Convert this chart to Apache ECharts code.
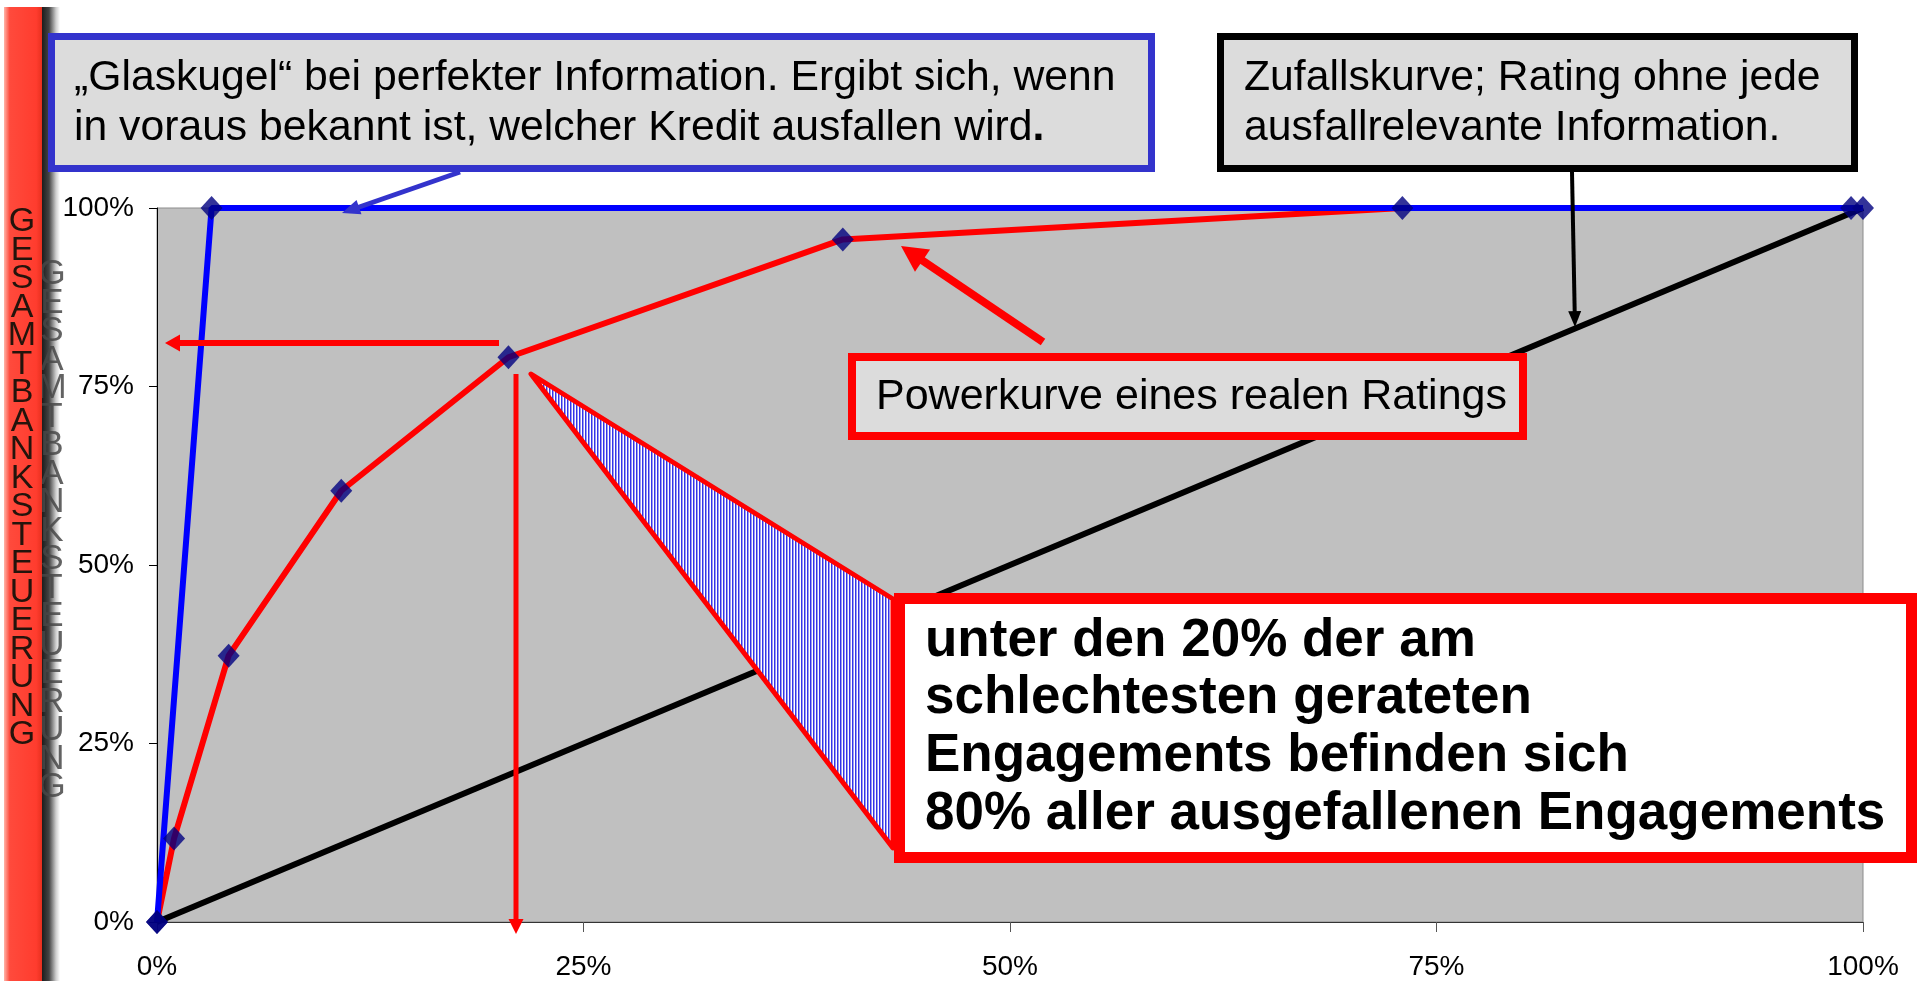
<!DOCTYPE html>
<html lang="de">
<head>
<meta charset="utf-8">
<title>Powerkurve eines Ratings</title>
<script src="https://cdn.jsdelivr.net/npm/echarts@6/dist/echarts.min.js"></script>
<style>
html, body { margin: 0; padding: 0; background: #fff; }
#main { width: 1927px; height: 981px; }
</style>
</head>
<body>
<div id="main"></div>
<script>
// Anteil Engagements (x, in %) gegen Anteil ausgefallener Engagements (y, in %)
var powerX = [0, 1.0, 4.2, 10.8, 20.6, 40.2, 73.0, 99.3];
var powerY = [0, 11.7, 37.3, 60.4, 79.1, 95.6, 100, 100];
var glasX = [0, 3.2, 100];
var glasY = [0, 100, 100];
var zufallX = [0, 100];
var zufallY = [0, 100];
var axisTicks = [0, 25, 50, 75, 100];
var banner = 'GESAMTBANKSTEUERUNG';

var FONT = '"Liberation Sans", Arial, sans-serif';

function pairs(xs, ys) {
    return xs.map(function (x, i) { return [x, ys[i]]; });
}

var chart = echarts.init(document.getElementById('main'));

chart.setOption({
    backgroundColor: '#fff',
    animation: false,
    textStyle: { fontFamily: FONT },
    grid: {
        left: 157, right: 64, top: 208, bottom: 57,
        show: true,
        backgroundColor: '#c0c0c0',
        borderColor: '#8c8c8c',
        borderWidth: 1
    },
    xAxis: {
        type: 'value',
        min: axisTicks[0],
        max: axisTicks[axisTicks.length - 1],
        interval: axisTicks[1] - axisTicks[0],
        splitLine: { show: false },
        axisLine: { lineStyle: { color: '#333', width: 1 } },
        axisTick: { length: 10, lineStyle: { color: '#555' } },
        axisLabel: {
            margin: 31, fontSize: 28, color: '#000', fontFamily: FONT,
            formatter: function (v) { return v + '%'; }
        }
    },
    yAxis: {
        type: 'value',
        min: axisTicks[0],
        max: axisTicks[axisTicks.length - 1],
        interval: axisTicks[1] - axisTicks[0],
        splitLine: { show: false },
        axisLine: { show: true, lineStyle: { color: '#000', width: 1 } },
        axisTick: { show: true, length: 8, lineStyle: { color: '#000' } },
        axisLabel: {
            margin: 23, fontSize: 28, color: '#000', fontFamily: FONT,
            formatter: function (v) { return v + '%'; }
        }
    },
    series: [
        {
            name: 'Zufallskurve', type: 'line', z: 2,
            data: pairs(zufallX, zufallY),
            symbol: 'none',
            lineStyle: { color: '#000', width: 6 }
        },
        {
            name: 'Powerkurve', type: 'line', z: 3,
            data: pairs(powerX, powerY),
            symbol: 'none',
            lineStyle: { color: '#ff0000', width: 6 }
        },
        {
            name: 'Glaskugel', type: 'line', z: 4,
            data: pairs(glasX, glasY),
            symbol: 'none',
            lineStyle: { color: '#0000ff', width: 6 }
        },
        {
            name: 'Punkte', type: 'scatter', z: 5,
            data: pairs(powerX, powerY).concat(pairs(glasX, glasY)),
            symbol: 'diamond',
            symbolSize: [22, 24],
            itemStyle: { color: '#000080' }
        }
    ]
});

// --- Anmerkungen (Kästen, Pfeile, Schraffur, Randleiste) ---
function arrow(x1, y1, x2, y2, w, hl, hw, color) {
    var dx = x2 - x1, dy = y2 - y1;
    var len = Math.sqrt(dx * dx + dy * dy);
    var ux = dx / len, uy = dy / len;
    var bx = x2 - ux * hl, by = y2 - uy * hl;
    var px = -uy * hw / 2, py = ux * hw / 2;
    return [
        { type: 'line', z: 100, shape: { x1: x1, y1: y1, x2: bx + ux * 2, y2: by + uy * 2 },
          style: { stroke: color, lineWidth: w } },
        { type: 'polygon', z: 100, shape: { points: [[x2, y2], [bx + px, by + py], [bx - px, by - py]] },
          style: { fill: color } }
    ];
}

function box(x1, y1, x2, y2, w, stroke, fill) {
    return { type: 'rect', z: 110,
        shape: { x: x1 + w / 2, y: y1 + w / 2, width: x2 - x1 - w, height: y2 - y1 - w },
        style: { fill: fill, stroke: stroke, lineWidth: w } };
}

function label(x, y, text, size, weight, extra) {
    var st = { text: text, fill: '#000', font: weight + ' ' + size + 'px ' + FONT,
               verticalAlign: 'middle', align: 'left' };
    if (extra) { for (var k in extra) st[k] = extra[k]; }
    return { type: 'text', z: 120, x: x, y: y, style: st };
}

var hatch = document.createElement('canvas');
hatch.width = 3; hatch.height = 2;
var hctx = hatch.getContext('2d');
hctx.fillStyle = '#ffffff'; hctx.fillRect(0, 0, 3, 2);
hctx.fillStyle = '#3434e8'; hctx.fillRect(0, 0, 1, 2);
hctx.fillStyle = '#9c9cf2'; hctx.fillRect(1, 0, 1, 2);

var g = [];

// Schraffiertes Dreieck
g.push({ type: 'polygon', z: 95,
    shape: { points: [[531, 374], [893, 599], [893, 848]] },
    style: { fill: { image: hatch, repeat: 'repeat' }, stroke: '#ff0000', lineWidth: 5, lineJoin: 'round' } });

// Pfeile
g = g.concat(arrow(460, 172, 342, 213, 5, 18, 15, '#3333cc'));
g = g.concat(arrow(1572, 172, 1575, 327, 4, 16, 13, '#000'));
g = g.concat(arrow(1043, 342, 901, 246, 8, 26, 27, '#ff0000'));
g = g.concat(arrow(499, 343, 165, 343, 6, 15, 17, '#ff0000'));
g = g.concat(arrow(516, 374, 516, 934, 5, 15, 15, '#ff0000'));

// Kästen
g.push(box(48, 33, 1155, 172, 7, '#3333cc', '#dcdcdc'));
g.push(label(74, 78, '„Glaskugel“ bei perfekter Information. Ergibt sich, wenn', 42.7, 'normal'));
g.push(label(74, 128, '{a|in voraus bekannt ist, welcher Kredit ausfallen wird}{b|.}', 42.7, 'normal', {
    rich: {
        a: { font: 'normal 42.7px ' + FONT, fill: '#000' },
        b: { font: 'bold 42.7px ' + FONT, fill: '#000' }
    }
}));

g.push(box(1217, 33, 1858, 172, 7, '#000', '#dcdcdc'));
g.push(label(1244, 78, 'Zufallskurve; Rating ohne jede', 42.7, 'normal'));
g.push(label(1244, 128, 'ausfallrelevante Information.', 42.7, 'normal'));

g.push(box(848, 353, 1527, 440, 8, '#ff0000', '#dcdcdc'));
g.push(label(876, 397, 'Powerkurve eines realen Ratings', 43, 'normal'));

g.push(box(894, 593, 1917, 863, 11, '#ff0000', '#ffffff'));
var bigLines = ['unter den 20% der am', 'schlechtesten gerateten',
                'Engagements befinden sich', '80% aller ausgefallenen Engagements'];
bigLines.forEach(function (t, i) {
    g.push(label(925, 641 + i * 57.7, t, 53, 'bold'));
});

// Randleiste links
g.push({ type: 'rect', z: 100, shape: { x: 40, y: 7, width: 20, height: 974 },
    style: { fill: new echarts.graphic.LinearGradient(0, 0, 1, 0, [
        { offset: 0, color: '#111' }, { offset: 0.45, color: '#444' },
        { offset: 0.8, color: '#cfcfcf' }, { offset: 1, color: '#ffffff' }]) } });
banner.split('').forEach(function (ch, i) {
    g.push({ type: 'text', z: 101, x: 52, y: 257 + i * 28.5,
        style: { text: ch, font: 'normal 35px ' + FONT, fill: 'rgba(70,70,70,0.85)',
                 align: 'center', verticalAlign: 'top', shadowBlur: 6, shadowColor: 'rgba(40,40,40,0.9)' } });
});
g.push({ type: 'rect', z: 102, shape: { x: 4, y: 7, width: 38, height: 974 },
    style: { fill: new echarts.graphic.LinearGradient(0, 0, 1, 0, [
        { offset: 0, color: '#ffb4a8' }, { offset: 0.15, color: '#ff4a3c' },
        { offset: 0.85, color: '#ff3c2e' }, { offset: 1, color: '#e8301f' }]) } });
banner.split('').forEach(function (ch, i) {
    g.push({ type: 'text', z: 103, x: 22, y: 205 + i * 28.5,
        style: { text: ch, font: 'normal 34px ' + FONT, fill: '#24140c',
                 align: 'center', verticalAlign: 'top' } });
});

chart.setOption({ graphic: g });
</script>
</body>
</html>
